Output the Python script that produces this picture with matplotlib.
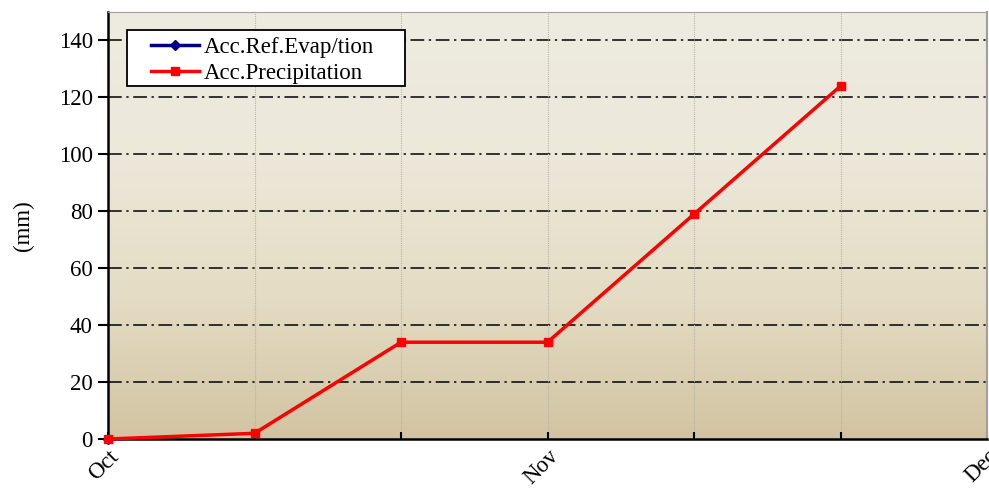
import numpy as np
import matplotlib.pyplot as plt
from matplotlib.colors import LinearSegmentedColormap
from matplotlib.patches import Rectangle

# dekads from 1 Oct
x_prec = [0, 1, 2, 3, 4, 5]
precip = [0, 2, 34, 34, 79, 124]
x_evap = [0]
evap = [0]
month_pos = [0, 3, 6]
month_labels = ["Oct", "Nov", "Dec"]

plt.rcParams['font.family'] = ['Liberation Serif', 'DejaVu Serif']

W, H = 989, 488
fig = plt.figure(figsize=(W / 100, H / 100), dpi=100)
ax = fig.add_axes([0.1092, 0.1004, 0.8888, 0.875])

# background gradient
cmap = LinearSegmentedColormap.from_list("bg", ["#d2c4a2", "#e4dcc4", "#ece8da", "#eeebe0"])
grad = np.linspace(0, 1, 256).reshape(-1, 1)
ax.imshow(grad, cmap=cmap, aspect="auto", extent=[0, 6, 0, 150], origin="lower", zorder=0)

ax.set_xlim(0, 6)
ax.set_ylim(0, 150)

for yy in range(20, 150, 20):
    ax.axhline(yy, color="black", lw=1.1, dashes=(9, 3, 1.5, 3), zorder=1)
for xx in range(1, 6):
    ax.axvline(xx, color="#b8b4a8", lw=0.8, ls=(0, (1, 1)), zorder=1)

ax.plot(x_evap, evap, color="#000080", lw=2.5, marker="D", ms=5, label="Acc.Ref.Evap/tion", zorder=3, clip_on=False)
ax.plot(x_prec, precip, color="#ff0000", lw=2.5, marker="s", ms=6, label="Acc.Precipitation", zorder=4, clip_on=False)

ax.set_yticks(range(0, 141, 20))
ax.set_xticks(month_pos)
ax.set_xticklabels(month_labels, rotation=45, ha="right", va="top", rotation_mode="anchor")
ax.set_xticks(range(0, 7), minor=True)
ax.tick_params(axis="y", direction="out", length=7, width=1.5, labelsize=16.5, pad=4)
ax.tick_params(axis="x", which="both", direction="in", length=5, width=1.5, labelsize=16.5, pad=5)
ax.set_ylabel("(mm)", fontsize=16.5, labelpad=18)

ax.spines["left"].set_linewidth(1.8)
ax.spines["bottom"].set_linewidth(1.8)
ax.spines["top"].set_color("#a0a0a0")
ax.spines["right"].set_color("#a0a0a0")
ax.spines["right"].set_linewidth(1.5)

# legend box drawn separately for the wide side padding
box = Rectangle((127 / W, 1 - 86 / H), 278 / W, 56 / H, transform=fig.transFigure,
                facecolor="white", edgecolor="black", lw=1.3, zorder=5)
ax.add_patch(box)
box.set_clip_on(False)
leg = ax.legend(loc="upper left", bbox_to_anchor=(151 / W, 1 - 37 / H), bbox_transform=fig.transFigure,
                fontsize=16.5, frameon=False, handlelength=2.1,
                borderpad=0, labelspacing=0.2, handletextpad=0.2, borderaxespad=0)
leg.set_zorder(6)

fig.savefig("out.png", dpi=100)
